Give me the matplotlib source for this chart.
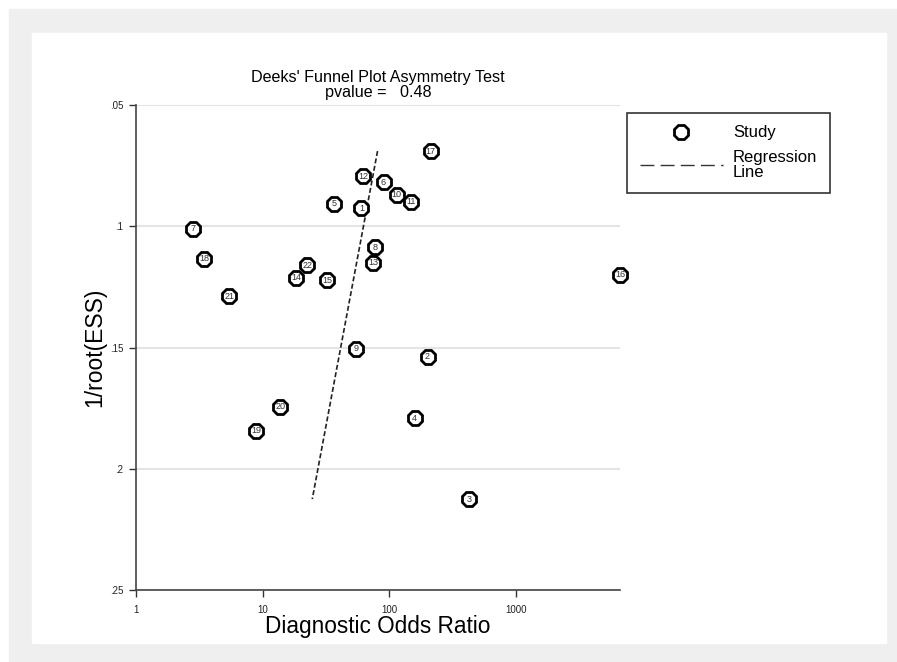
import numpy as np
import matplotlib
matplotlib.use("Agg")
import matplotlib.pyplot as plt
from matplotlib.lines import Line2D
from matplotlib.patches import Rectangle

plt.rcParams['font.family'] = ['Liberation Sans', 'DejaVu Sans']

# study data
study_id = ['1', '2', '3', '4', '5', '6', '7', '8', '9', '10', '11',
            '12', '13', '14', '15', '16', '17', '18', '19', '20', '21', '22']
dor = [60.4, 201, 425, 159, 37, 90.3, 2.83, 78, 55.2, 114.5, 150,
       62.7, 75.2, 18.5, 32.5, 6670, 213, 3.45, 8.91, 13.8, 5.45, 22.6]
inv_root_ess = [0.0925, 0.1539, 0.2125, 0.1791, 0.0908, 0.0818, 0.1011, 0.1086,
                0.1506, 0.0871, 0.0900, 0.0793, 0.1151, 0.1213, 0.1222, 0.1201,
                0.0690, 0.1135, 0.1844, 0.1745, 0.1288, 0.1160]

# regression line end points
reg_y = [0.0690, 0.2125]
reg_dor = [81, 24.7]

x_ticks = [1, 10, 100, 1000]
x_ticklabels = ['1', '10', '100', '1000']
y_ticks = [0.05, 0.1, 0.15, 0.2, 0.25]
y_ticklabels = ['.05', '.1', '.15', '.2', '.25']

W, H = 897, 662
fig = plt.figure(figsize=(W / 100, H / 100), dpi=100)
fig.patch.set_facecolor('white')
fig.patches.append(Rectangle((9 / W, 0), (W - 9) / W, (H - 9) / H,
                             transform=fig.transFigure, color='#efefef', zorder=-2))
fig.patches.append(Rectangle((32 / W, (H - 643) / H), 854 / W, 610 / H,
                             transform=fig.transFigure, color='white', zorder=-1))

ax = fig.add_axes([136 / W, (H - 590) / H, 484 / W, 485 / H])
ax.set_facecolor('none')

ax.plot(reg_dor, reg_y, color='#222222', lw=1.2, ls=(0, (3, 1.5)), zorder=2)
ax.plot(dor, inv_root_ess, ls='none', marker='8', ms=11.5, mfc='white',
        mec='black', mew=2, zorder=3, clip_on=False)
for s, x, y in zip(study_id, dor, inv_root_ess):
    ax.text(x, y, s, ha='center', va='center', fontsize=6.5, color='#333333',
            zorder=4, clip_on=False)

ax.set_xscale('log')
ax.set_xlim(1, 6670)
ax.set_ylim(0.25, 0.05)
ax.set_xticks(x_ticks)
ax.set_xticklabels(x_ticklabels)
ax.xaxis.set_minor_locator(matplotlib.ticker.NullLocator())
ax.set_yticks(y_ticks)
ax.set_yticklabels(y_ticklabels)
ax.tick_params(axis='both', labelsize=7, length=5, width=1, color='#333333',
               labelcolor='#222222')
ax.tick_params(axis='y', pad=4)
ax.tick_params(axis='x', pad=6)

for sp in ['top', 'right']:
    ax.spines[sp].set_visible(False)
for sp in ['left', 'bottom']:
    ax.spines[sp].set_color('#444444')
    ax.spines[sp].set_linewidth(1.2)

ax.set_axisbelow(True)
ax.yaxis.grid(True, color='#e4e4e4', lw=1.5)

ax.set_xlabel('Diagnostic Odds Ratio', fontsize=16.3, labelpad=0)
ax.set_ylabel('1/root(ESS)', fontsize=16.5, labelpad=3)
ax.set_title("Deeks' Funnel Plot Asymmetry Test\npvalue =   0.48",
             fontsize=11.6, linespacing=0.95, pad=6)

handles = [
    Line2D([], [], ls='none', marker='8', ms=11.5, mfc='white', mec='black', mew=2),
    Line2D([], [], color='#333333', lw=1, ls=(0, (10, 4.5))),
]
leg = ax.legend(handles, ['Study', 'Regression\nLine'],
                loc='upper left', bbox_to_anchor=(627 / W, 1 - 113 / H),
                bbox_transform=fig.transFigure, borderaxespad=0,
                fancybox=False, edgecolor='#333333', fontsize=12,
                handlelength=5, handletextpad=0.6, borderpad=0.75,
                labelspacing=0.55, framealpha=1)
leg.get_frame().set_linewidth(1.2)
for t in leg.get_texts():
    t.set_linespacing(1.05)

fig.savefig('out.png', dpi=100)
